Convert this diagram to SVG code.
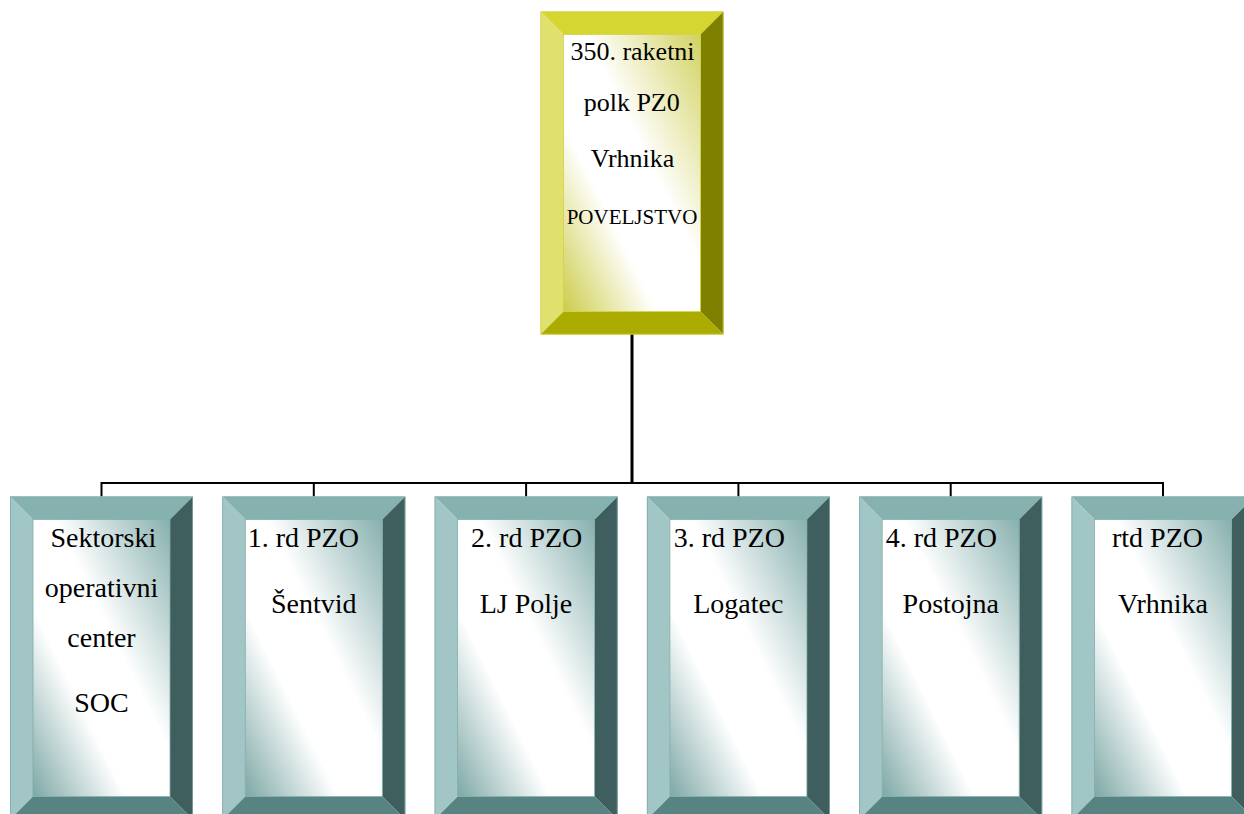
<svg xmlns="http://www.w3.org/2000/svg" xmlns:xlink="http://www.w3.org/1999/xlink" width="1244" height="814" viewBox="0 0 1244 814">
<style>
.t{fill:#000;text-anchor:middle;font-family:"Liberation Serif","Times New Roman",Times,serif}
.b{font-size:28px}
.h{font-size:26px}
.s{font-size:21px}
.c{fill:none;stroke:#000;stroke-width:2}
.cm{fill:none;stroke:#000;stroke-width:3}
</style>
<defs>
<linearGradient id="gTeal" x1="1" y1="0" x2="0" y2="1">
<stop offset="0" stop-color="#86B0AE"/>
<stop offset="0.42" stop-color="#FFFFFF"/>
<stop offset="0.66" stop-color="#FFFFFF"/>
<stop offset="1" stop-color="#7DA8A6"/>
</linearGradient>
<linearGradient id="gYel" x1="1" y1="0" x2="0" y2="1">
<stop offset="0" stop-color="#D2D262"/>
<stop offset="0.42" stop-color="#FFFFFF"/>
<stop offset="0.66" stop-color="#FFFFFF"/>
<stop offset="1" stop-color="#CCCC4A"/>
</linearGradient>
<g id="tealBox">
<polygon points="0,0 183,0 160,23 23,23" fill="#85B2AF"/>
<polygon points="0,0 23,23 23,300 0,323" fill="#A2C6C5"/>
<polygon points="183,0 183,323 160,300 160,23" fill="#3F5F5E"/>
<polygon points="0,323 23,300 160,300 183,323" fill="#578482"/>
<rect x="23" y="23" width="137" height="277" fill="url(#gTeal)" stroke="#7FAAA8" stroke-width="0.8"/>
<rect x="0.4" y="0.4" width="182.2" height="322.2" fill="none" stroke="#7FAAA8" stroke-width="0.8"/>
</g>
<g id="yelBox">
<polygon points="0,0 183,0 160,23 23,23" fill="#D6D633"/>
<polygon points="0,0 23,23 23,300 0,323" fill="#E0E06E"/>
<polygon points="183,0 183,323 160,300 160,23" fill="#808000"/>
<polygon points="0,323 23,300 160,300 183,323" fill="#ABAB00"/>
<rect x="23" y="23" width="137" height="277" fill="url(#gYel)" stroke="#D0D040" stroke-width="0.8"/>
<rect x="0.4" y="0.4" width="182.2" height="322.2" fill="none" stroke="#D0D040" stroke-width="0.8"/>
</g>
</defs>
<rect width="1244" height="814" fill="#FFFFFF"/>
<g id="connectors">
<line class="cm" x1="632" y1="334" x2="632" y2="484"/>
<polyline class="c" points="101.5,496.5 101.5,483 1163,483 1163,496.5"/>
<line class="c" x1="313.8" y1="483" x2="313.8" y2="496.5"/>
<line class="c" x1="526.1" y1="483" x2="526.1" y2="496.5"/>
<line class="c" x1="738.4" y1="483" x2="738.4" y2="496.5"/>
<line class="c" x1="950.7" y1="483" x2="950.7" y2="496.5"/>
</g>
<g id="node-top">
<use xlink:href="#yelBox" x="540.5" y="11.5"/>
<text class="t h" x="632.5" y="60">350. raketni</text>
<text class="t h" x="631.7" y="111">polk PZ0</text>
<text class="t h" x="632.5" y="166.7">Vrhnika</text>
<text class="t s" x="632" y="224">POVELJSTVO</text>
</g>
<g id="node-soc">
<use xlink:href="#tealBox" x="10" y="496.5"/>
<text class="t b" x="103.3" y="546.7">Sektorski</text>
<text class="t b" x="101.5" y="597">operativni</text>
<text class="t b" x="101.5" y="646.5">center</text>
<text class="t b" x="101.5" y="711.7">SOC</text>
</g>
<g id="node-1rd">
<use xlink:href="#tealBox" x="222.3" y="496.5"/>
<text class="t b" x="303.3" y="546.7">1. rd PZO</text>
<text class="t b" x="313.8" y="613.3">Šentvid</text>
</g>
<g id="node-2rd">
<use xlink:href="#tealBox" x="434.6" y="496.5"/>
<text class="t b" x="526.7" y="546.7">2. rd PZO</text>
<text class="t b" x="526" y="613.3">LJ Polje</text>
</g>
<g id="node-3rd">
<use xlink:href="#tealBox" x="646.9" y="496.5"/>
<text class="t b" x="729.3" y="546.7">3. rd PZO</text>
<text class="t b" x="738.3" y="613.3">Logatec</text>
</g>
<g id="node-4rd">
<use xlink:href="#tealBox" x="859.2" y="496.5"/>
<text class="t b" x="941.3" y="546.7">4. rd PZO</text>
<text class="t b" x="950.8" y="613.3">Postojna</text>
</g>
<g id="node-rtd">
<use xlink:href="#tealBox" x="1071.5" y="496.5"/>
<text class="t b" x="1157.5" y="546.7">rtd PZO</text>
<text class="t b" x="1163" y="613.3">Vrhnika</text>
</g>
</svg>
